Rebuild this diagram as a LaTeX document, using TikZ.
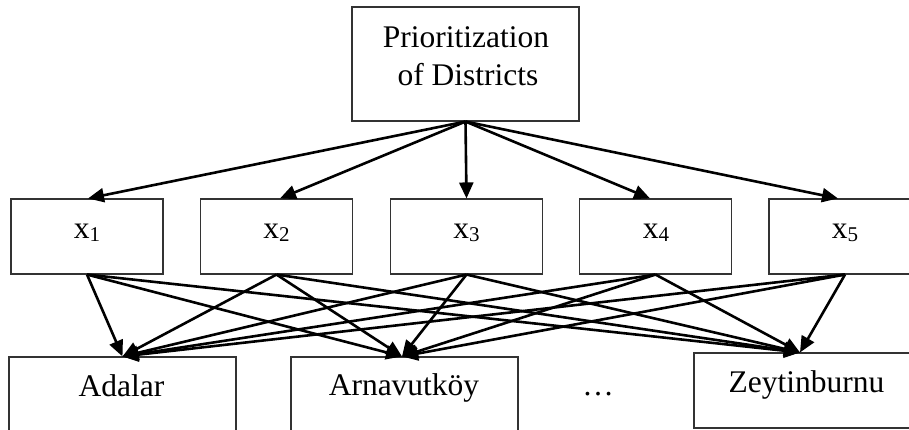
\documentclass[tikz,border=0pt]{standalone}
\usepackage{fontspec}
\setmainfont{Liberation Serif}
\usetikzlibrary{arrows.meta}
\newcommand\xsub[1]{\raisebox{-3pt}{\fontsize{21}{21}\selectfont #1}}
\begin{document}
\begin{tikzpicture}[x=1pt,y=-1pt,
  box/.style={draw=black!80, line width=1.1pt, inner sep=0pt, rectangle},
  xbox/.style={box, minimum width=152pt, minimum height=75pt},
  dbox/.style={box, minimum width=227pt, minimum height=80pt},
  txt/.style={font=\fontsize{31.5}{38}\selectfont, anchor=base, inner sep=0pt},
  arr/.style={line width=2.6pt, -{Triangle[length=16pt,width=14pt]}}]
\useasboundingbox (0,0) rectangle (909,430);
\clip (0,0) rectangle (909,430);
% boxes
\node[box, minimum width=227pt, minimum height=114pt] (top) at (465.5,64) {};
\node[xbox] (x1) at (87,236.5) {};
\node[xbox] (x2) at (276.5,236.5) {};
\node[xbox] (x3) at (466.5,236.5) {};
\node[xbox] (x4) at (655.5,236.5) {};
\node[xbox] (x5) at (845,236.5) {};
\node[dbox] (ada) at (122.5,397) {};
\node[dbox] (arn) at (404.5,397) {};
\node[dbox, minimum height=75pt] (zey) at (807.5,390.5) {};
% texts
\node[txt] (t1) at (466,48) {Prioritization};
\node[txt] (t2) at (468,86) {of Districts};
\node[txt] (l1) at (87,238) {x\xsub{1}};
\node[txt] (l2) at (276.5,238) {x\xsub{2}};
\node[txt] (l3) at (466.5,238) {x\xsub{3}};
\node[txt] (l4) at (656,238) {x\xsub{4}};
\node[txt] (l5) at (845,238) {x\xsub{5}};
\node[txt] (la) at (121.5,396) {Adalar};
\node[txt] (lb) at (404,395) {Arnavutköy};
\node[txt] (lz) at (806.5,392) {Zeytinburnu};
\node[txt] (dots) at (598,395) {…};
% arrows from top
\draw[arr] (top.south) -- ([xshift=1pt]x1.north);
\draw[arr] (top.south) -- ([xshift=3.5pt]x2.north);
\draw[arr] (top.south) -- (x3.north);
\draw[arr] (top.south) -- ([xshift=-5.5pt]x4.north);
\draw[arr] (top.south) -- ([xshift=-7pt]x5.north);
% arrows to districts
\foreach \i in {1,...,5}{
  \draw[arr] (x\i.south) -- (ada.north);
  \draw[arr] (x\i.south) -- ([xshift=-2.5pt]arn.north);
  \draw[arr] (x\i.south) -- ([xshift=-7.5pt]zey.north);
}
\end{tikzpicture}
\end{document}
